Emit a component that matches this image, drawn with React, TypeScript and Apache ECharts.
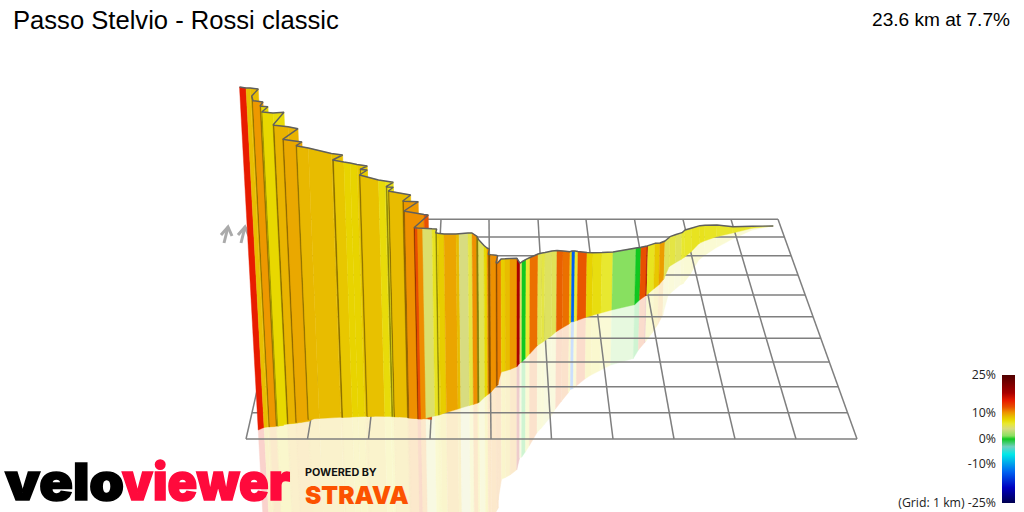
import React, { useEffect, useRef } from "react";
import * as echarts from "echarts";

const titleText = "Passo Stelvio - Rossi classic";
const summaryText = "23.6 km at 7.7%";
const legendLabels = ["25%", "10%", "0%", "-10%", "(Grid: 1 km) -25%"];
const legendLabelGrades = [25, 10, 0, -10, -25];

// Ribbon edges, start of the climb first.
const edgeX = [
  239.5, 246, 250, 258.3, 251.7, 253, 263, 260, 261.2, 268,
  261.7, 262.5, 273, 284, 273, 274.5, 288, 298, 282.7, 284,
  300, 302, 296, 297.2, 308.3, 331.4, 342.7, 332.5, 334, 343.8,
  350, 357, 367.3, 360, 361, 367.3, 359.3, 360.5, 378.5, 385,
  393.3, 386, 387.5, 393.3, 388.3, 389.5, 410.7, 402.7, 404, 418.3,
  404, 405, 424, 428.3, 414, 415, 417.5, 422.5, 432, 436.7,
  435.7, 437, 438, 444, 456, 459, 468, 472, 477, 476.5,
  478.5, 484, 487, 489.3, 488.3, 490.5, 496, 497.7, 496, 497.5,
  501, 505, 510, 517, 520, 522, 526, 530, 538, 542,
  545, 552, 557, 563, 570, 572, 575, 578, 587, 593,
  602, 613, 636, 641, 647, 648, 655, 660, 665, 670,
  676, 682, 685, 692, 700, 705, 717, 733, 752, 773.3,
];
const edgeTopY = [
  87, 88, 88, 89, 96, 100.7, 102, 106, 106.2, 106.7,
  112, 112, 113, 112.3, 125, 125.2, 126.7, 128.7, 139.3, 139.5,
  141.7, 142, 145.7, 146, 148, 153.5, 155, 160, 160.3, 162,
  163, 164.5, 166, 169.3, 169.5, 170, 175, 175.2, 180, 181,
  182.3, 186.7, 187, 187.3, 191, 191.2, 195, 201, 201.2, 201.7,
  211, 211.2, 214.5, 215, 227.7, 227.8, 228, 228.2, 228.8, 229,
  232.7, 233, 233.2, 234, 234, 233.7, 233, 233, 236.3, 236.5,
  239.5, 245.5, 248, 249, 254.3, 254.6, 255.3, 255.7, 262.7, 263,
  259, 258.8, 258.5, 258.3, 263.3, 261.7, 259.3, 257.5, 254, 253,
  252.5, 251, 250.5, 251, 251.7, 251, 251, 251.5, 252.5, 252.8,
  252.5, 252, 248, 247.3, 246, 245.7, 243.3, 243, 241, 236.7,
  234.5, 232.7, 230, 228, 225.7, 225.3, 225, 226.7, 226.3, 226,
];
const edgeBaseY = [
  430, 427.5, 427, 426.5, 427, 426.5, 426, 426, 426, 425.5,
  426, 426, 424, 423, 424, 423.7, 422.5, 421, 422.5, 422.3,
  419.5, 419, 419.5, 419.2, 418.5, 417.3, 417, 417.4, 417.3, 417,
  416.7, 416.4, 416, 416.2, 416.2, 416, 416.3, 416.2, 416.4, 416.6,
  416.8, 416.6, 416.6, 416.8, 416.7, 416.7, 418, 417.8, 418, 419,
  418, 418, 419, 419.5, 419, 419, 419, 418, 416, 415,
  415, 414.8, 414.5, 412.5, 409, 408, 405.5, 404.5, 403, 403,
  402, 397, 394.7, 393, 393.5, 392, 386, 385, 386, 384.5,
  372, 371, 369.5, 366.7, 363, 362, 358, 354, 345.5, 343,
  341, 336, 331.7, 328, 324, 322, 321.5, 320.5, 317.3, 315.5,
  313, 310, 304.7, 300, 295.7, 295, 289, 285, 279, 266.7,
  263, 259.5, 257.5, 251.7, 243.3, 241, 236.7, 233, 228.3, 226,
];
// Gradient (%) of the strip that starts at each edge.
const stripGrade = [
  15, 8.7, 8.8, 7.5, 9, 10.2, 9, 9, 7.4, 7,
  7.4, 7.5, 7.2, 9, 9, 9.2, 9.2, 9.5, 9.5, 9.6,
  9.6, 9.6, 9, 9, 8.8, 8.6, 8.5, 9, 8.3, 7.7,
  7.7, 8.2, 8.2, 9, 8.2, 8.2, 9, 8.6, 7.2, 6.8,
  7, 7, 6.8, 7, 9, 8.8, 8.8, 9.5, 10.2, 10.2,
  10, 10.5, 12.5, 12.5, 12.5, 12.7, 10.6, 4.5, 6.5, 7,
  7, 7.5, 8, 9.7, 8.8, 4, 5.5, 10.5, 7, 7,
  5, 7.5, 10.5, 10.5, 10.5, 10.5, 11, 11, 11, 11,
  8, 8.8, 10.2, 18, 4.5, 0, 6, 11.5, 5.2, 5.5,
  4.8, 5, 12, 11.5, 7.5, -13, 6, 12.3, 7.8, 7,
  6, 1.2, 0, 12.5, 18, 6.5, 8.3, 10, 5, 5.5,
  5, 6, 6.2, 6.5, 6.6, 6.4, 6.2, 6.2, 6,
];

// Colour scale of the legend.
const scaleGrades = [-25, -19, -13, -6, -3, 0, 1.2, 4, 6, 7.5, 9, 10.5, 12.5, 15, 18, 25];
const scaleColors = [
  "#000050", "#0000c0", "#0060f0", "#00e8e8", "#70d0c0", "#10c820", "#88e060", "#d8dc80",
  "#e8e830", "#e8d800", "#e8b800", "#ee9000", "#e85000", "#e81c00", "#a80000", "#500000",
];

// Ground grid, 1 km squares in perspective.
const gridRowY = [219.3, 237, 255.7, 275, 295, 316.7, 338.3, 362, 386.7, 412.7, 439];
const gridColumnFarX = [296, 344.2, 392.4, 441, 489, 538, 586, 634.5, 683, 731, 778];
const gridColumnNearX = [246, 307.5, 368.5, 430, 491, 551.5, 613, 674, 735, 796, 857];

const hex = (c: string) => [1, 3, 5].map((i) => parseInt(c.slice(i, i + 2), 16));
function gradeColor(g: number, shade = 1, fade = 0) {
  let k = 0;
  while (k < scaleGrades.length - 2 && g > scaleGrades[k + 1]) k++;
  const t = Math.max(0, Math.min(1, (g - scaleGrades[k]) / (scaleGrades[k + 1] - scaleGrades[k])));
  const a = hex(scaleColors[k]);
  const b = hex(scaleColors[k + 1]);
  return `rgb(${a
    .map((v, i) => Math.round(((v + (b[i] - v) * t) * shade) * (1 - fade) + 255 * fade))
    .join(",")})`;
}
// Walls converge towards a vanishing point far below the picture.
const lean = (x: number) => (512 - x) / 5000;
const footX = (x: number, top: number, y: number) => x + lean(x) * (y - top);

export default function App() {
  const ref = useRef<HTMLDivElement>(null);
  useEffect(() => {
    const chart = echarts.init(ref.current!, undefined, { renderer: "svg" });

    // A strip running backwards is hidden by the wall; the one after it shows a dark fold.
    const forward = stripGrade.map((_, i) => i).filter((i) => edgeX[i + 1] >= edgeX[i]);
    const wallRows = forward.map((i) => {
      const fold = i > 0 && edgeX[i] < edgeX[i - 1];
      return [
        edgeX[i], edgeTopY[i], edgeX[i + 1], edgeTopY[i + 1],
        footX(edgeX[i + 1], edgeTopY[i + 1], edgeBaseY[i + 1]), edgeBaseY[i + 1],
        footX(edgeX[i], edgeTopY[i], edgeBaseY[i]), edgeBaseY[i],
        stripGrade[i], fold ? 0.58 : 1, 0,
      ];
    });
    const mirror = (i: number) => edgeBaseY[i] + (edgeBaseY[i] - edgeTopY[i]) * 0.95;
    const mirrorRows = forward.map((i) => [
      footX(edgeX[i], edgeTopY[i], edgeBaseY[i]), edgeBaseY[i],
      footX(edgeX[i + 1], edgeTopY[i + 1], edgeBaseY[i + 1]), edgeBaseY[i + 1],
      footX(edgeX[i + 1], edgeTopY[i + 1], mirror(i + 1)), mirror(i + 1),
      footX(edgeX[i], edgeTopY[i], mirror(i)), mirror(i),
      stripGrade[i], 1, 0.8,
    ]);
    const sideX = (col: number, y: number) => {
      const t = (y - gridRowY[0]) / (gridRowY[gridRowY.length - 1] - gridRowY[0]);
      return gridColumnFarX[col] + (gridColumnNearX[col] - gridColumnFarX[col]) * t;
    };
    const last = gridColumnFarX.length - 1;
    const gridRows = [
      ...gridRowY.map((y) => [sideX(0, y), y, sideX(last, y), y]),
      ...gridColumnFarX.map((x, i) => [x, gridRowY[0], gridColumnNearX[i], gridRowY[gridRowY.length - 1]]),
    ];

    const quad = (_: any, api: any) => {
      const pts = [0, 2, 4, 6].map((k) => api.coord([api.value(k), api.value(k + 1)]));
      const fill = gradeColor(api.value(8), api.value(9), api.value(10));
      return {
        type: "polygon",
        shape: { points: pts },
        style: { fill, stroke: fill, lineWidth: 0.4 },
      };
    };

    const legendY = (g: number) => 375 + ((25 - g) / 50) * 128;
    const stops = scaleGrades
      .map((g, i) => ({ offset: (25 - g) / 50, color: scaleColors[i] }))
      .reverse();

    const dims = ["a", "b", "c", "d", "e", "f", "g", "h", "grade", "shade", "fade"];
    chart.setOption({
      animation: false,
      grid: { left: 0, right: 0, top: 0, bottom: 0 },
      xAxis: { type: "value", min: 0, max: 1024, show: false },
      yAxis: { type: "value", min: 0, max: 512, inverse: true, show: false },
      series: [
        { type: "custom", z: 1, silent: true, dimensions: dims, data: mirrorRows, renderItem: quad },
        {
          type: "custom", z: 2, silent: true, clip: true,
          data: gridRows,
          renderItem: (_: any, api: any) => {
            const a = api.coord([api.value(0), api.value(1)]);
            const b = api.coord([api.value(2), api.value(3)]);
            return {
              type: "line",
              shape: { x1: a[0], y1: a[1], x2: b[0], y2: b[1] },
              style: { stroke: "#7f7f7f", lineWidth: 1.5 },
            };
          },
        },
        { type: "custom", z: 3, silent: true, dimensions: dims, data: wallRows, renderItem: quad },
        {
          type: "line", z: 4, silent: true, symbol: "none",
          data: edgeX.map((x, i) => [x, edgeTopY[i]]),
          lineStyle: { color: "#5f5f5f", width: 1.4 },
        },
      ],
      graphic: [
        { type: "text", z: 10, x: 13, y: 7, style: { text: titleText, font: '25.6px "Liberation Sans"', fill: "#000" } },
        { type: "text", z: 10, x: 1010, y: 10, style: { text: summaryText, align: "right", font: '19.1px "Liberation Sans"', fill: "#000" } },
        // Arrows on the far side of the ribbon
        ...[0, 17].flatMap((dx) => [
          { type: "polyline", z: 0, shape: { points: [[224 + dx, 243], [228 + dx, 227]] }, style: { stroke: "#aaaaaa", lineWidth: 3, fill: "none" } },
          { type: "polyline", z: 0, shape: { points: [[221 + dx, 235], [228 + dx, 227], [232 + dx, 236]] }, style: { stroke: "#aaaaaa", lineWidth: 3, fill: "none" } },
        ]),
        { type: "text", z: 10, x: 5, y: 456, scaleX: 1.09, style: { text: "velo", font: '900 51px Inter', fill: "#000000", stroke: "#000000", lineWidth: 1.6 } },
        { type: "text", z: 10, x: 122, y: 456, scaleX: 0.96, style: { text: "viewer", font: '900 51px Inter', fill: "#ff0a3c", stroke: "#ff0a3c", lineWidth: 1.6 } },
        { type: "text", z: 10, x: 305, y: 468, scaleX: 1.08, style: { text: "POWERED BY", font: '700 10px Inter', fill: "#111" } },
        { type: "text", z: 10, x: 305, y: 482, scaleX: 0.98, style: { text: "STRAVA", font: '900 25px Inter', fill: "#fc5200" } },
        {
          type: "rect", z: 10, shape: { x: 1002, y: 375, width: 13, height: 128 },
          style: { fill: new echarts.graphic.LinearGradient(0, 0, 0, 1, stops) },
        },
        ...legendLabels.map((text, i) => ({
          type: "text", z: 10, x: 996, y: legendY(legendLabelGrades[i]) - 1,
          style: { text, align: "right", verticalAlign: "middle", font: '12.3px "Open Sans"', fill: "#222" },
        })),
      ],
    });
    return () => chart.dispose();
  }, []);
  return <div ref={ref} style={{ position: "absolute", left: 0, top: 0, width: 1024, height: 512 }} />;
}
